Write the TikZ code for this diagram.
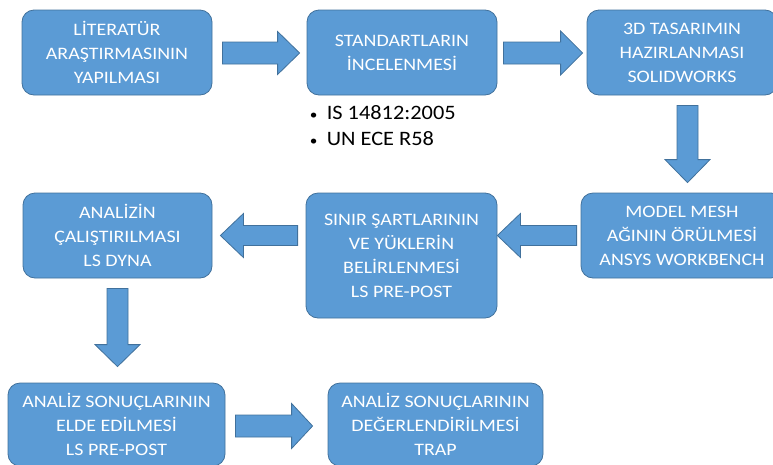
\documentclass[tikz,border=0pt]{standalone}
\usepackage{fontspec}
\setmainfont[FakeStretch=1.14]{Carlito}
\newfontfamily\bulfont[FakeStretch=1.09]{Carlito}
\usetikzlibrary{calc}
\definecolor{boxblue}{HTML}{5B9BD5}
\definecolor{boxedge}{HTML}{41719C}
\tikzset{
  stagebox/.style={draw=boxedge, line width=0.8pt, fill=boxblue, rounded corners=12pt,
    text=white, align=center, inner sep=0pt, font=\fontsize{17.5}{24}\selectfont},
  blockarrowstyle/.style={draw=boxedge, line width=0.8pt, fill=boxblue, line join=miter}
}
% #1 tail, #2 tip, #3 shaft half width, #4 head half width, #5 head length
\newcommand\blockarr[5]{%
  \coordinate (hb) at ($(#2)!#5!(#1)$);
  \draw[blockarrowstyle] ($(#1)!#3!90:(#2)$) -- ($(hb)!#3!90:(#2)$) -- ($(hb)!#4!90:(#2)$)
    -- (#2) -- ($(hb)!#4!-90:(#2)$) -- ($(hb)!#3!-90:(#2)$) -- ($(#1)!#3!-90:(#2)$) -- cycle;
}
\begin{document}
\begin{tikzpicture}[x=1pt,y=-1pt]
\useasboundingbox (0,0) rectangle (773,464);
\clip (0,0) rectangle (773,464);
\node[stagebox, minimum width=190pt, minimum height=85pt] (b1) at (117,52.5) {LİTERATÜR\\ARAŞTIRMASININ\\YAPILMASI};
\node[stagebox, minimum width=190pt, minimum height=85pt] (b2) at (402,52.5) {STANDARTLARIN\\İNCELENMESİ};
\node[stagebox, minimum width=190pt, minimum height=85pt] (b3) at (682,52.5) {3D TASARIMIN\\HAZIRLANMASI\\SOLIDWORKS};
\node[stagebox, minimum width=202pt, minimum height=85pt] (b4) at (682,235.5) {MODEL MESH\\AĞININ ÖRÜLMESİ\\ANSYS WORKBENCH};
\node[stagebox, minimum width=191pt, minimum height=125pt] (b5) at (401.5,255.5) {SINIR ŞARTLARININ\\VE YÜKLERİN\\BELİRLENMESİ\\LS PRE-POST};
\node[stagebox, minimum width=189pt, minimum height=85pt] (b6) at (117.5,235.5) {ANALİZİN\\ÇALIŞTIRILMASI\\LS DYNA};
\node[stagebox, minimum width=217pt, minimum height=83pt] (b7) at (116.5,424.5) {ANALİZ SONUÇLARININ\\ELDE EDİLMESİ\\LS PRE-POST};
\node[stagebox, minimum width=215pt, minimum height=83pt] (b8) at (435.5,424.5) {ANALİZ SONUÇLARININ\\DEĞERLENDİRİLMESİ\\TRAP};
\node[anchor=north west, align=left, inner sep=0pt, text=black, font=\bulfont\fontsize{20.5}{26}\selectfont] (bul) at ($(b2.south west)+(3,10)$)
  {\makebox[17pt][l]{\fontsize{14}{14}\selectfont•}IS 14812:2005\\\makebox[17pt][l]{\fontsize{14}{14}\selectfont•}UN ECE R58};
% connector end points
\coordinate (a1s) at ($(b1.east)+(10,0.5)$);
\coordinate (a1e) at ($(b2.west)+(-7,0.5)$);
\coordinate (a2s) at ($(b2.east)+(6,0.5)$);
\coordinate (a2e) at ($(b3.west)+(-4,0.5)$);
\coordinate (a3s) at ($(b3.south)+(5.5,10)$);
\coordinate (a3e) at ($(b4.north)+(5.5,-10)$);
\coordinate (a4s) at ($(b4.west)+(-4,0)$);
\coordinate (a4e) at (b5.east |- b4.west);
\coordinate (a5s) at ($(b5.west |- b6.east)+(-8,0)$);
\coordinate (a5e) at ($(b6.east)+(8,0)$);
\coordinate (a6s) at ($(b6.south)+(0,10)$);
\coordinate (a6e) at ($(b6.south |- b7.north)+(0,-16)$);
\coordinate (a7s) at ($(b7.east)+(10,1.5)$);
\coordinate (a7e) at ($(b8.west)+(-15,1.5)$);
\blockarr{a1s}{a1e}{11pt}{21.5pt}{22pt}
\blockarr{a2s}{a2e}{11pt}{22pt}{22pt}
\blockarr{a3s}{a3e}{10.5pt}{22.5pt}{23pt}
\blockarr{a4s}{a4e}{10pt}{22pt}{23pt}
\blockarr{a5s}{a5e}{10pt}{22pt}{23pt}
\blockarr{a6s}{a6e}{10.5pt}{22.5pt}{22pt}
\blockarr{a7s}{a7e}{11pt}{22.5pt}{21pt}
\end{tikzpicture}
\end{document}
